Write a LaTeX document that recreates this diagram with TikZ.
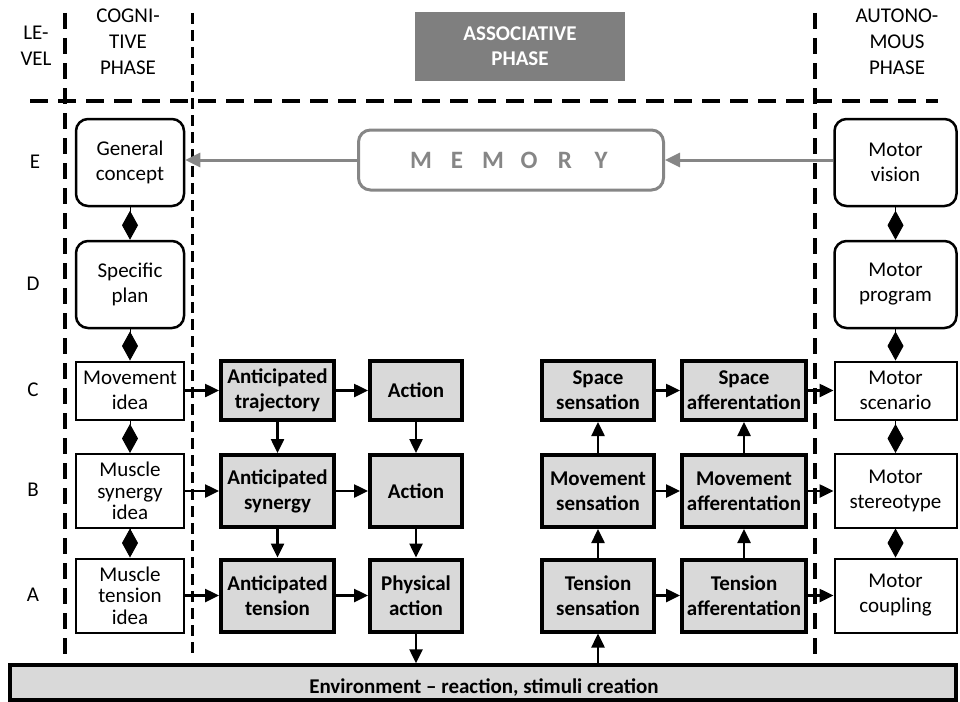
\documentclass[tikz,border=0pt]{standalone}
\usepackage{fontspec}
\setmainfont{Carlito}
\usetikzlibrary{arrows.meta}
\definecolor{boxgray}{HTML}{D9D9D9}
\definecolor{headgray}{HTML}{7F7F7F}
\definecolor{memgray}{HTML}{868686}
\tikzset{
  every node/.style={font=\fontsize{21pt}{25pt}\selectfont, align=center, inner sep=0pt},
  rbox/.style={draw, line width=2.5pt, rounded corners=12pt, minimum width=108pt, minimum height=87pt},
  wbox/.style={draw, line width=2pt, minimum width=108pt},
  tight/.style={font=\fontsize{21pt}{21.5pt}\selectfont},
  gbox/.style={draw, line width=4pt, fill=boxgray, font=\fontsize{21pt}{25pt}\selectfont\bfseries},
  mbox/.style={rbox, minimum width=122pt},
  mwbox/.style={wbox, minimum width=122pt},
  arr/.style={line width=2.5pt, -{Triangle[length=14pt,width=13pt]}},
  garr/.style={line width=3pt, draw=memgray, -{Triangle[length=15pt,width=14pt]}},
  dia/.style={line width=1pt, -{Diamond[length=29pt,width=16pt]}},
  bigdash/.style={line width=4pt, dash pattern=on 16pt off 9pt},
  smalldash/.style={line width=3pt, dash pattern=on 11pt off 6pt},
  lvl/.style={font=\fontsize{21pt}{26pt}\selectfont},
}
\begin{document}
\begin{tikzpicture}[x=1pt, y=-1pt]
\useasboundingbox (0,0) rectangle (960,701);

% phase separators
\draw[bigdash] (65,13) -- (65,664);
\draw[smalldash] (192,13) -- (192,658);
\draw[bigdash] (815,13) -- (815,664);
\draw[line width=4pt, dash pattern=on 18pt off 10pt] (30,101) -- (938,101);

% headers
\node[lvl] (hlevel) at (36,46) {LE-\\VEL};
\node[lvl] (hcog) at (128,42) {COGNI-\\TIVE\\PHASE};
\node[lvl] (haut) at (897,42) {AUTONO-\\MOUS\\PHASE};
\node[fill=headgray, text=white, minimum width=210pt, minimum height=69pt,
      font=\fontsize{21pt}{25pt}\selectfont\bfseries] (hassoc) at (520,46.5) {ASSOCIATIVE\\PHASE};

% level letters
\node (lE) at (35,162) {E};
\node (lD) at (33,284) {D};
\node (lC) at (33,390) {C};
\node (lB) at (33,490) {B};
\node (lA) at (33,595) {A};

% cognitive column
\node[rbox] (gc) at (130,162.5) {General\\concept};
\node[rbox] (sp) at (130,284.5) {Specific\\plan};
\node[wbox, minimum height=58pt] (mi) at (130,390.5) {Movement\\idea};
\node[wbox, tight, minimum height=74pt] (ms) at (130,491) {Muscle\\synergy\\idea};
\node[wbox, tight, minimum height=74pt] (mt) at (130,595.5) {Muscle\\tension\\idea};

% anticipation column
\node[gbox, minimum width=113pt, minimum height=59pt] (at) at (277.5,390.5) {Anticipated\\trajectory};
\node[gbox, minimum width=113pt, minimum height=72pt] (as) at (277.5,491) {Anticipated\\synergy};
\node[gbox, minimum width=113pt, minimum height=72pt] (an) at (277.5,595.5) {Anticipated\\tension};

% action column
\node[gbox, minimum width=92pt, minimum height=59pt] (ac) at (416,390.5) {Action};
\node[gbox, minimum width=92pt, minimum height=72pt] (ab) at (416,491) {Action};
\node[gbox, minimum width=92pt, minimum height=72pt] (pa) at (416,595.5) {Physical\\action};

% sensation column
\node[gbox, minimum width=112pt, minimum height=59pt] (ss) at (598,390.5) {Space\\sensation};
\node[gbox, minimum width=112pt, minimum height=72pt] (vs) at (598,491) {Movement\\sensation};
\node[gbox, minimum width=112pt, minimum height=72pt] (ts) at (598,595.5) {Tension\\sensation};

% afferentation column
\node[gbox, minimum width=124pt, minimum height=59pt] (sa) at (744,390.5) {Space\\afferentation};
\node[gbox, minimum width=124pt, minimum height=72pt] (va) at (744,491) {Movement\\afferentation};
\node[gbox, minimum width=124pt, minimum height=72pt] (ta) at (744,595.5) {Tension\\afferentation};

% autonomous column
\node[mbox] (mv) at (895.5,162.5) {Motor\\vision};
\node[mbox] (mp) at (895.5,284.5) {Motor\\program};
\node[mwbox, minimum height=58pt] (msc) at (895.5,390.5) {Motor\\scenario};
\node[mwbox, minimum height=74pt] (mst) at (895.5,491) {Motor\\stereotype};
\node[mwbox, minimum height=74pt] (mco) at (895.5,595.5) {Motor\\coupling};

% memory
\node[draw=memgray, line width=3pt, rounded corners=12pt, minimum width=305pt, minimum height=60pt,
      text=memgray, font=\fontsize{25pt}{28pt}\selectfont\bfseries] (mem) at (511,160)
  {\makebox[36pt]{M}\makebox[36pt]{E}\makebox[36pt]{M}\makebox[36pt]{O}\makebox[36pt]{R}\makebox[36pt]{Y}};

% environment
\node[draw, line width=3.5pt, fill=boxgray, minimum width=946pt, minimum height=35pt,
      font=\fontsize{21pt}{25pt}\selectfont\bfseries] (env) at (483,682.5) {};
\node[font=\fontsize{21pt}{25pt}\selectfont\bfseries] (envtext) at (484,688) {Environment – reaction, stimuli creation};

% memory links
\draw[garr] (mem.west) -- (mem.west -| gc.east);
\draw[garr] (mem.east -| mv.west) -- (mem.east);

% level links
\draw[dia] (gc.south) -- (sp.north);
\draw[dia] (sp.south) -- (mi.north);
\draw[dia] (mi.south) -- (ms.north);
\draw[dia] (ms.south) -- (mt.north);
\draw[dia] (mv.south) -- (mp.north);
\draw[dia] (mp.south) -- (msc.north);
\draw[dia] (msc.south) -- (mst.north);
\draw[dia] (mst.south) -- (mco.north);

% efferent flow
\draw[arr] (mi.east) -- (at.west);
\draw[arr] (ms.east) -- (as.west);
\draw[arr] (mt.east) -- (an.west);
\draw[arr] (at.east) -- (ac.west);
\draw[arr] (as.east) -- (ab.west);
\draw[arr] (an.east) -- (pa.west);
\draw[arr] (at.south) -- (as.north);
\draw[arr] (as.south) -- (an.north);
\draw[arr] (ac.south) -- (ab.north);
\draw[arr] (ab.south) -- (pa.north);
\draw[arr] (pa.south) -- (pa.south |- env.north);

% afferent flow
\draw[arr] (ts.south |- env.north) -- (ts.south);
\draw[arr] (ts.north) -- (vs.south);
\draw[arr] (vs.north) -- (ss.south);
\draw[arr] (ta.north) -- (va.south);
\draw[arr] (va.north) -- (sa.south);
\draw[arr] (ss.east) -- (sa.west);
\draw[arr] (vs.east) -- (va.west);
\draw[arr] (ts.east) -- (ta.west);
\draw[arr] (sa.east) -- (msc.west);
\draw[arr] (va.east) -- (mst.west);
\draw[arr] (ta.east) -- (mco.west);
\end{tikzpicture}
\end{document}
